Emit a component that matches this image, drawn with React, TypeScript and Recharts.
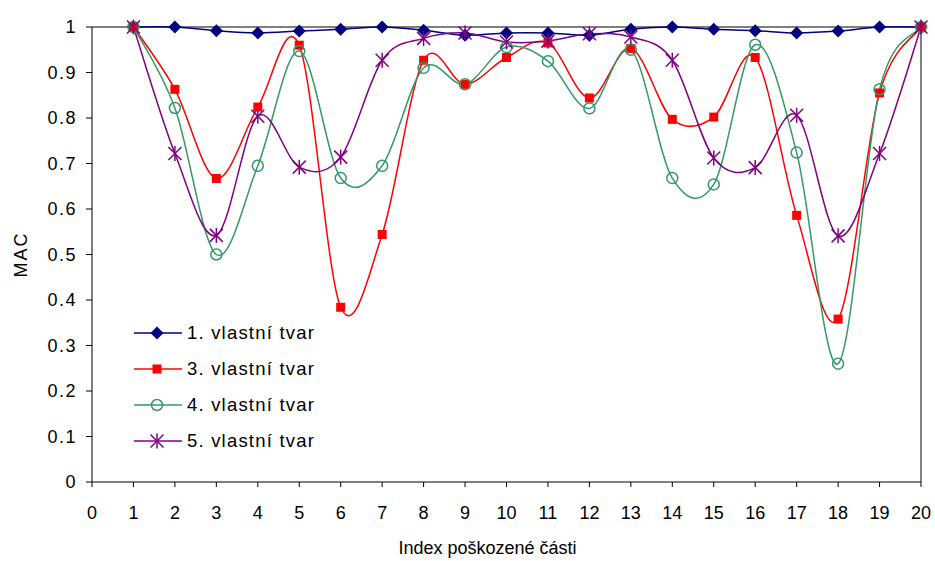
import { LineChart, Line, XAxis, YAxis, Legend, ReferenceLine } from 'recharts'

const INDEX = [1, 2, 3, 4, 5, 6, 7, 8, 9, 10, 11, 12, 13, 14, 15, 16, 17, 18, 19, 20]
const MODE_1 = [1, 1, 0.992, 0.987, 0.991, 0.995, 1, 0.993, 0.982, 0.987, 0.987, 0.982, 0.995, 1, 0.995, 0.992, 0.987, 0.991, 1, 1]
const MODE_3 = [1, 0.863, 0.667, 0.824, 0.96, 0.384, 0.544, 0.927, 0.874, 0.933, 0.965, 0.844, 0.953, 0.797, 0.802, 0.933, 0.586, 0.358, 0.855, 1]
const MODE_4 = [1, 0.822, 0.5, 0.695, 0.947, 0.668, 0.695, 0.91, 0.874, 0.956, 0.925, 0.821, 0.95, 0.668, 0.654, 0.961, 0.724, 0.26, 0.863, 1]
const MODE_5 = [1, 0.722, 0.542, 0.804, 0.692, 0.714, 0.927, 0.975, 0.987, 0.967, 0.969, 0.985, 0.978, 0.927, 0.712, 0.691, 0.806, 0.541, 0.722, 1]

const X_TICKS = Array.from({ length: 21 }, (_, i) => i)
const Y_TICKS = [0, 0.1, 0.2, 0.3, 0.4, 0.5, 0.6, 0.7, 0.8, 0.9, 1]

const SERIES = [
  { key: 'm1', name: '1. vlastní tvar', color: '#000080', marker: 'diamond' },
  { key: 'm3', name: '3. vlastní tvar', color: '#FF0000', marker: 'square' },
  { key: 'm4', name: '4. vlastní tvar', color: '#339966', marker: 'circle' },
  { key: 'm5', name: '5. vlastní tvar', color: '#800080', marker: 'star' },
]

const data = INDEX.map((x, i) => ({ x, m1: MODE_1[i], m3: MODE_3[i], m4: MODE_4[i], m5: MODE_5[i] }))

const FONT = '"Liberation Sans", Arial, sans-serif'

// smoothing like the spreadsheet: bezier with control points at 1/6 of neighbours
function smoothCurve(context: any) {
  let pts: number[][] = []
  return {
    areaStart() {},
    areaEnd() {},
    lineStart() {
      pts = []
    },
    point(x: number, y: number) {
      pts.push([+x, +y])
    },
    lineEnd() {
      if (!pts.length) return
      context.moveTo(pts[0][0], pts[0][1])
      for (let i = 0; i < pts.length - 1; i++) {
        const p0 = pts[i - 1] || pts[i]
        const p1 = pts[i]
        const p2 = pts[i + 1]
        const p3 = pts[i + 2] || pts[i + 1]
        context.bezierCurveTo(
          p1[0] + (p2[0] - p0[0]) / 6,
          p1[1] + (p2[1] - p0[1]) / 6,
          p2[0] - (p3[0] - p1[0]) / 6,
          p2[1] - (p3[1] - p1[1]) / 6,
          p2[0],
          p2[1],
        )
      }
    },
  }
}

function Marker({ kind, color, cx, cy }: { kind: string; color: string; cx: number; cy: number }) {
  if (kind === 'diamond') {
    const s = 6.5
    return <path d={`M${cx},${cy - s}L${cx + s},${cy}L${cx},${cy + s}L${cx - s},${cy}Z`} fill={color} />
  }
  if (kind === 'square') {
    return <rect x={cx - 4.5} y={cy - 4.5} width={9} height={9} fill={color} />
  }
  if (kind === 'circle') {
    return <circle cx={cx} cy={cy} r={5.5} fill="none" stroke={color} strokeWidth={1.5} />
  }
  const s = 6.5
  return (
    <g stroke={color} strokeWidth={1.5}>
      <line x1={cx - s} y1={cy - s} x2={cx + s} y2={cy + s} />
      <line x1={cx - s} y1={cy + s} x2={cx + s} y2={cy - s} />
      <line x1={cx} y1={cy - s - 1} x2={cx} y2={cy + s + 1} />
    </g>
  )
}

function LegendBox() {
  return (
    <div style={{ fontFamily: FONT, fontSize: 18.5, letterSpacing: 1.2, color: '#000' }}>
      {SERIES.map((s) => (
        <div key={s.key} style={{ display: 'flex', alignItems: 'center', height: 36 }}>
          <svg width={50} height={20} style={{ display: 'block' }}>
            <line x1={0} y1={10} x2={48} y2={10} stroke={s.color} strokeWidth={1.5} />
            <Marker kind={s.marker} color={s.color} cx={23} cy={10} />
          </svg>
          <span style={{ marginLeft: 3 }}>{s.name}</span>
        </div>
      ))}
    </div>
  )
}

export default function App() {
  return (
    <div style={{ position: 'absolute', left: 0, top: 0, background: '#fff' }}>
      <LineChart width={935} height={561} data={data} margin={{ top: 27, right: 14, bottom: 0, left: 30 }}>
        <XAxis
          dataKey="x"
          type="number"
          domain={[0, 20]}
          ticks={X_TICKS}
          interval={0}
          height={79}
          stroke="#000"
          tickSize={5}
          tickMargin={19}
          tick={{ fontSize: 18, fill: '#000', fontFamily: FONT }}
          label={{ value: 'Index poškozené části', position: 'bottom', offset: -20, dx: -19, fontSize: 18, fill: '#000', fontFamily: FONT }}
        />
        <YAxis
          type="number"
          domain={[0, 1]}
          ticks={Y_TICKS}
          interval={0}
          width={62}
          stroke="#000"
          tickSize={6}
          tickMargin={9}
          tick={{ fontSize: 18, fill: '#000', fontFamily: FONT, letterSpacing: 1.5 }}
          label={{ value: 'MAC', angle: -90, position: 'insideLeft', offset: -9, fontSize: 18, fill: '#000', fontFamily: FONT, style: { textAnchor: 'middle', letterSpacing: 2 } }}
        />
        <ReferenceLine y={1} stroke="#000" strokeWidth={1} />
        <ReferenceLine x={20} stroke="#808080" strokeWidth={2} />
        <Legend
          layout="vertical"
          verticalAlign="middle"
          align="center"
          content={() => <LegendBox />}
          wrapperStyle={{ left: 134, top: 315, width: 240 }}
        />
        {SERIES.map((s) => (
          <Line
            key={s.key}
            dataKey={s.key}
            name={s.name}
            type={smoothCurve as any}
            stroke={s.color}
            strokeWidth={1.5}
            isAnimationActive={false}
            dot={(p: any) => <Marker key={`${s.key}-${p.index}`} kind={s.marker} color={s.color} cx={p.cx} cy={p.cy} />}
            activeDot={false}
          />
        ))}
      </LineChart>
    </div>
  )
}
